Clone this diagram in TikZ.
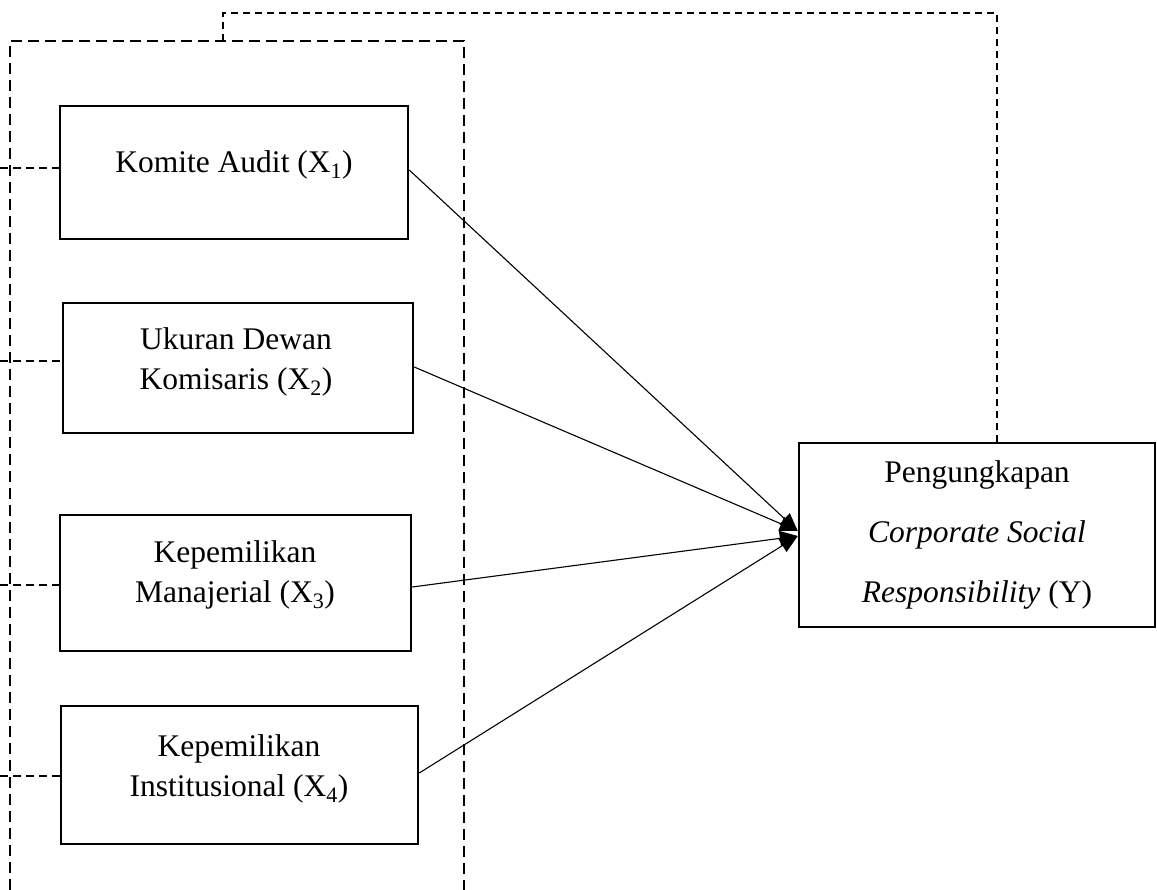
\documentclass[tikz,border=0pt]{standalone}
\usepackage{fontspec}
\setmainfont{Liberation Serif}
\usetikzlibrary{arrows.meta,calc}
\tikzset{
  vbox/.style={draw, line width=2.5pt, inner sep=0pt},
  vtext/.style={align=center, inner sep=0pt, font=\fontsize{31.5}{40}\selectfont},
  ytext/.style={align=center, inner sep=0pt, font=\fontsize{31.5}{60}\selectfont},
  outerdash/.style={line width=2.4pt, dash pattern=on 11pt off 6pt},
  thindash/.style={line width=1.8pt, dash pattern=on 7pt off 5pt},
  sidedash/.style={line width=1.8pt, dash pattern=on 8pt off 5pt},
  link/.style={line width=1.1pt, -{Triangle[length=18pt,width=15pt]}}
}
\begin{document}
\begin{tikzpicture}[x=1pt,y=-1pt]
\useasboundingbox (0,0) rectangle (1157,890);
% boxes
\node[vbox, minimum width=348pt, minimum height=133pt] (b1) at (234,172.5) {};
\node[vbox, minimum width=350pt, minimum height=130pt] (b2) at (238,368) {};
\node[vbox, minimum width=351pt, minimum height=136pt] (b3) at (235.5,583) {};
\node[vbox, minimum width=357pt, minimum height=138pt] (b4) at (239.5,775) {};
\node[vbox, minimum width=356pt, minimum height=184pt] (Y) at (977,535) {};
% texts
\node[vtext] (t1) at (234,165) {Komite Audit (X\textsubscript{1})};
\node[vtext] (t2) at (236,362) {Ukuran Dewan\\Komisaris (X\textsubscript{2})};
\node[vtext] (t3) at (235,575) {Kepemilikan\\Manajerial (X\textsubscript{3})};
\node[vtext] (t4) at (239,769) {Kepemilikan\\Institusional (X\textsubscript{4})};
\node[ytext] (ty) at (977,535) {Pengungkapan\\\textit{Corporate Social}\\\textit{Responsibility} (Y)};
% outer dashed frame
\coordinate (obl) at (10,890);
\coordinate (otl) at (10,41);
\coordinate (otr) at (464,41);
\coordinate (obr) at (464,890);
\draw[outerdash] (obl) -- (otl) -- (otr) -- (obr);
% top connector
\coordinate (c0) at (223,41);
\coordinate (c1) at (223,13);
\coordinate (c2) at (997,13);
\draw[thindash] (c0) -- (c1) -- (c2) -- (c2 |- Y.north);
% left side dashes
\coordinate (l1) at (0,168);
\coordinate (l2) at (0,361);
\coordinate (l3) at (0,585);
\coordinate (l4) at (0,776);
\draw[sidedash] (l1) -- (l1 -| b1.west);
\draw[sidedash] (l2) -- (l2 -| b2.west);
\draw[sidedash] (l3) -- (l3 -| b3.west);
\draw[sidedash] (l4) -- (l4 -| b4.west);
% arrows
\coordinate (e1) at ($(Y.west)+(0,-4)$);
\coordinate (e2) at ($(Y.west)+(0,1)$);
\coordinate (s1) at (b1.east |- 0,170);
\coordinate (s2) at (b2.east |- 0,367);
\coordinate (s3) at (b3.east |- 0,587);
\coordinate (s4) at (b4.east |- 0,773);
\draw[link] (s1) -- (e1);
\draw[link] (s2) -- (e1);
\draw[link] (s3) -- (e2);
\draw[link] (s4) -- (e2);
\end{tikzpicture}
\end{document}
